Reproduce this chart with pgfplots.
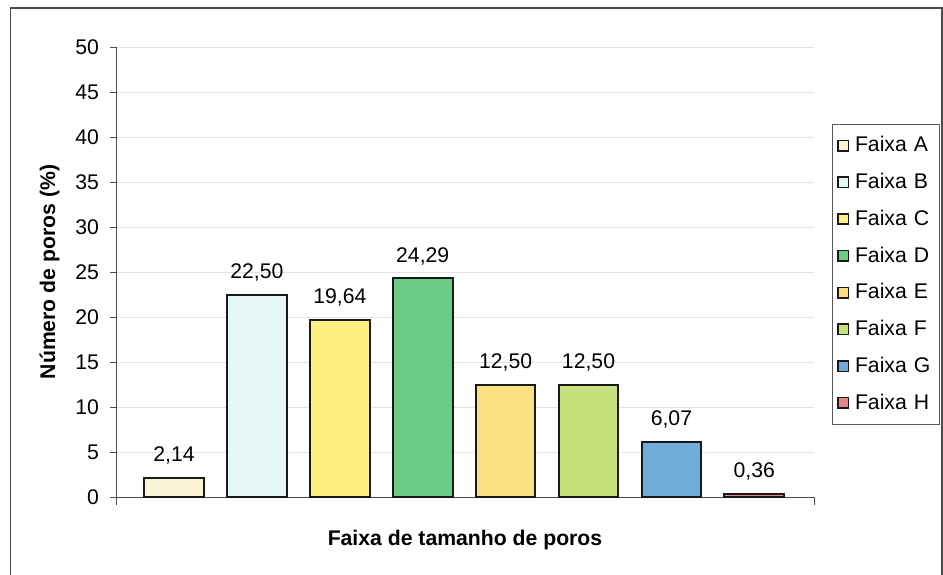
\documentclass[border=0pt]{standalone}
\usepackage{fontspec}
\setmainfont{Liberation Sans}
\usepackage{pgfplots}
\pgfplotsset{compat=1.18}

% bar fill colours
\definecolor{faixaA}{HTML}{FBF3D6}
\definecolor{faixaB}{HTML}{E4F6F6}
\definecolor{faixaC}{HTML}{FFEF80}
\definecolor{faixaD}{HTML}{6CCB84}
\definecolor{faixaE}{HTML}{FCDF80}
\definecolor{faixaF}{HTML}{C6E07C}
\definecolor{faixaG}{HTML}{70ACD8}
\definecolor{faixaH}{HTML}{E88486}

\newcommand{\chartfont}{\fontsize{10.6}{12}\selectfont}

\begin{document}
\begin{tikzpicture}
\useasboundingbox (0,0) rectangle (471.5pt,287pt);
% outer frame of the chart area
\draw[gray!60!black, line width=0.6pt] (5.3pt,-4pt) rectangle (471pt,283pt);

\begin{axis}[
  at={(58pt,38.5pt)}, anchor=south west,
  scale only axis, width=349pt, height=225pt,
  xmin=-0.70, xmax=7.72,
  ymin=0, ymax=50,
  ytick={0,5,...,50},
  xtick=\empty,
  extra x ticks={-0.70,7.72},
  extra x tick labels={},
  extra x tick style={major tick length=4pt, tick align=outside, tick style={gray!60!black, thin}},
  axis lines*=left,
  axis line style={gray!60!black, thin},
  tick align=outside,
  major tick length=3pt,
  tick style={gray!60!black, thin},
  ymajorgrids,
  grid style={gray!22, thin},
  /pgf/number format/assume math mode=true,
  ticklabel style={font=\chartfont},
  yticklabel style={xshift=-2pt},
  ylabel={\textbf{Número de poros (\%)}},
  ylabel style={font=\chartfont, yshift=1pt},
  xlabel={\textbf{Faixa de tamanho de poros}},
  xlabel style={font=\chartfont, yshift=1pt},
  ybar, bar shift=0pt, bar width=0.72,
  every axis plot/.append style={draw=black!90, line width=1pt},
  nodes near coords,
  nodes near coords style={font=\chartfont, anchor=south, yshift=3pt,
    /pgf/number format/.cd, fixed, fixed zerofill, precision=2, use comma},
  legend cell align=left,
  legend style={at={(rel axis cs:1.0258,0.829)}, anchor=north west,
    font=\chartfont, draw=gray!70!black, thin,
    row sep=5.2pt, inner xsep=2.4pt, inner ysep=4pt,
    text width=38pt},
  legend image code/.code={%
    \draw[#1, line width=0.8pt] (0pt,-2.6pt) rectangle (5.2pt,2.6pt);
    \path (6pt,0pt);},
]
\addplot[fill=faixaA] coordinates {(0,2.14)};
\addplot[fill=faixaB] coordinates {(1,22.50)};
\addplot[fill=faixaC] coordinates {(2,19.64)};
\addplot[fill=faixaD] coordinates {(3,24.29)};
\addplot[fill=faixaE] coordinates {(4,12.50)};
\addplot[fill=faixaF] coordinates {(5,12.50)};
\addplot[fill=faixaG] coordinates {(6,6.07)};
\addplot[fill=faixaH] coordinates {(7,0.36)};
\legend{Faixa A,Faixa B,Faixa C,Faixa D,Faixa E,Faixa F,Faixa G,Faixa H}
\end{axis}
\end{tikzpicture}
\end{document}
